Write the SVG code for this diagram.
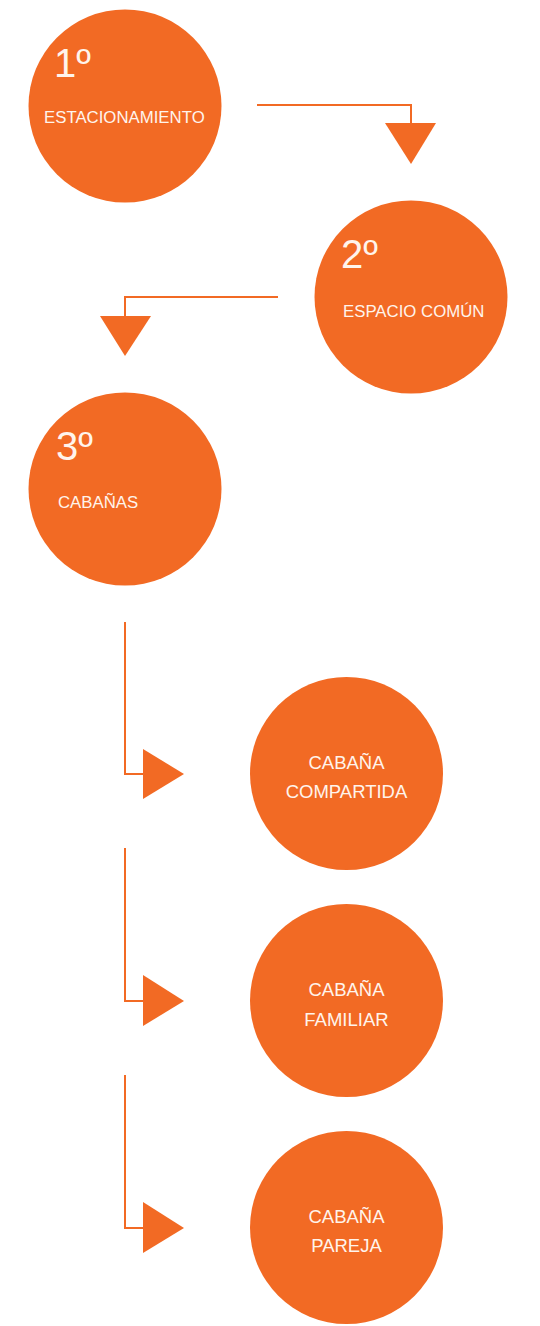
<svg xmlns="http://www.w3.org/2000/svg" width="540" height="1326" viewBox="0 0 540 1326">
<style>
.node{fill:#F26A24}
.t{fill:#FFF4EC;font-family:"Liberation Sans",Arial,sans-serif}
.num{font-size:40px}
.lbl{font-size:16.8px}
.lbl2{font-size:18.5px;text-anchor:middle}
.line{fill:none;stroke:#F26A24;stroke-width:2}
.head{fill:#F26A24}
</style>
<rect width="540" height="1326" fill="#FFFFFF"/>
<g id="connectors">
<path class="line" d="M257,105 H411 V124"/>
<polygon class="head" points="385,123 436,123 411,164"/>
<path class="line" d="M278,297 H125 V317"/>
<polygon class="head" points="100,316 151,316 125,356"/>
<path class="line" d="M125,622 V774 H144"/>
<polygon class="head" points="143,749 143,799 184,774"/>
<path class="line" d="M125,848 V1001 H144"/>
<polygon class="head" points="143,975 143,1026 184,1001"/>
<path class="line" d="M125,1075 V1228 H144"/>
<polygon class="head" points="143,1202 143,1253 184,1228"/>
</g>
<g id="n1">
<circle class="node" cx="125" cy="106" r="96.5"/>
<text class="t num" x="54" y="77">1º</text>
<text class="t lbl" x="44" y="123">ESTACIONAMIENTO</text>
</g>
<g id="n2">
<circle class="node" cx="411" cy="297" r="96.5"/>
<text class="t num" x="341" y="268">2º</text>
<text class="t lbl" x="343" y="317">ESPACIO COMÚN</text>
</g>
<g id="n3">
<circle class="node" cx="125" cy="489" r="96.5"/>
<text class="t num" x="56" y="460">3º</text>
<text class="t lbl" x="58" y="508">CABAÑAS</text>
</g>
<g id="n4">
<circle class="node" cx="346.5" cy="773.5" r="96.5"/>
<text class="t lbl2" x="346.5" y="769">CABAÑA</text>
<text class="t lbl2" x="346.5" y="798">COMPARTIDA</text>
</g>
<g id="n5">
<circle class="node" cx="346.5" cy="1000.5" r="96.5"/>
<text class="t lbl2" x="346.5" y="996">CABAÑA</text>
<text class="t lbl2" x="346.5" y="1026">FAMILIAR</text>
</g>
<g id="n6">
<circle class="node" cx="346.5" cy="1227.5" r="96.5"/>
<text class="t lbl2" x="346.5" y="1223">CABAÑA</text>
<text class="t lbl2" x="346.5" y="1252">PAREJA</text>
</g>
</svg>
